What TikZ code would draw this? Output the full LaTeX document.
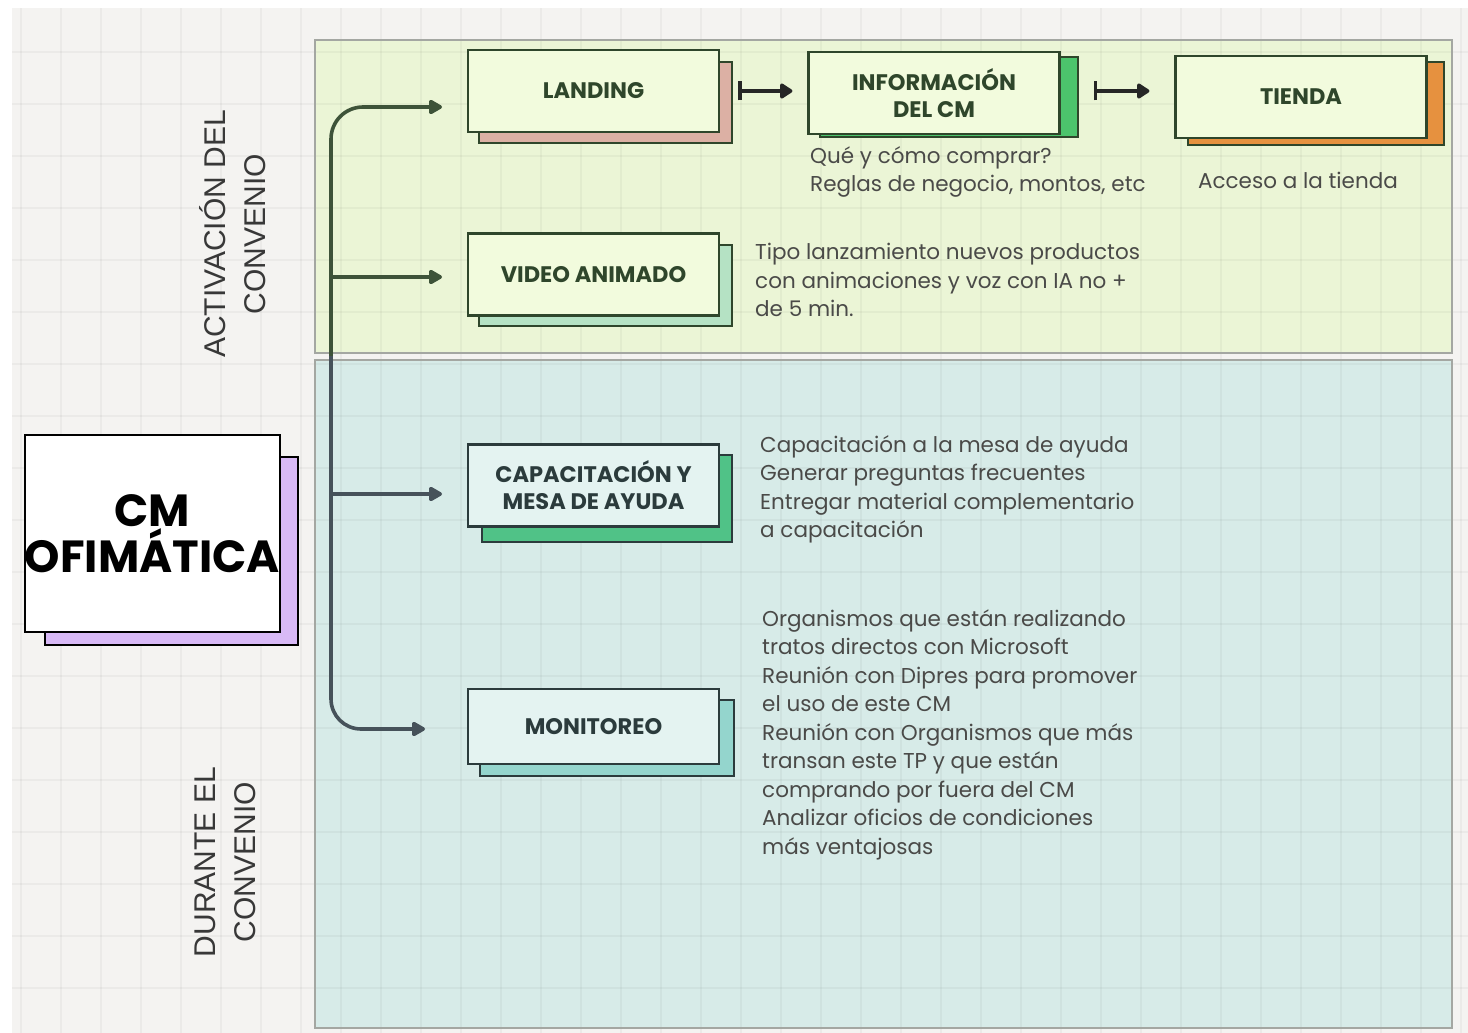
\documentclass[tikz,border=0pt]{standalone}
\usepackage{fontspec}
\setmainfont{Poppins}
\newfontfamily\labfont{Liberation Sans}
\usetikzlibrary{arrows.meta}
\definecolor{canvas}{HTML}{F4F3F1}
\definecolor{gband}{HTML}{EBF5D6}
\definecolor{bband}{HTML}{D7EBE8}
\definecolor{bandline}{HTML}{A4A7A2}
\definecolor{fillA}{HTML}{F2FBDD}
\definecolor{fillB}{HTML}{E4F3F1}
\definecolor{edgeA}{HTML}{2F462B}
\definecolor{edgeB}{HTML}{2B3B3C}
\definecolor{cpink}{HTML}{DCB0A4}
\definecolor{cgreen}{HTML}{4CC46C}
\definecolor{corange}{HTML}{E6913F}
\definecolor{cmint}{HTML}{B5E2C4}
\definecolor{ccap}{HTML}{50C287}
\definecolor{cteal}{HTML}{94D5CD}
\definecolor{cpurple}{HTML}{D8B9F6}
\definecolor{bodytext}{HTML}{4A4A48}
\definecolor{connA}{HTML}{3E5339}
\definecolor{connB}{HTML}{46525A}
\tikzset{
  mainbox/.style={draw=edgeA, line width=2.2pt, fill=fillA, minimum width=251pt, minimum height=82pt,
    inner sep=0pt, align=center, text=edgeA, font=\bfseries\fontsize{22.5}{27}\selectfont},
  mainboxB/.style={mainbox, draw=edgeB, fill=fillB, text=edgeB},
  shadowbox/.style={draw=edgeA, line width=2.2pt, minimum width=253pt, minimum height=81pt, inner sep=0pt},
  shadowboxB/.style={shadowbox, draw=edgeB},
  body/.style={anchor=north west, inner sep=0pt, align=left, text=bodytext, font=\fontsize{21.5}{28.5}\selectfont},
  bandlabel/.style={rotate=90, align=center, text=black!78, font=\labfont\fontsize{30}{40}\selectfont},
  gridline/.style={draw=black, opacity=0.035, line width=1.3pt},
  tipA/.style={-{Triangle[round, length=15pt, width=16pt]}},
  connectA/.style={draw=connA, line width=3.6pt, tipA},
  connectB/.style={draw=connB, line width=3.6pt, tipA},
  flow/.style={draw=black!85, line width=3.6pt, {Bar[width=19pt]}-{Triangle[round, length=14pt, width=17pt]}}
}
\begin{document}
\begin{tikzpicture}[x=1pt,y=-1pt]
\useasboundingbox (0,0) rectangle (1468,1033);
\fill[white] (0,0) rectangle (1468,1033);
\fill[canvas] (12,8) rectangle (1468,1033);
% bands
\fill[gband] (315,40) rectangle (1452,353);
\fill[bband] (315,360) rectangle (1452,1028);
% grid
\foreach \x in {21,61,...,1461} \draw[gridline] (\x,8) -- (\x,1033);
\foreach \y in {52,104,...,1030} \draw[gridline] (12,\y) -- (1468,\y);
\draw[bandline, line width=2pt] (315,40) rectangle (1452,353);
\draw[bandline, line width=2pt] (315,360) rectangle (1452,1028);
% band labels
\node[bandlabel] (lblA) at (233,234) {ACTIVACIÓN DEL\\CONVENIO};
\node[bandlabel] (lblB) at (225,862) {DURANTE EL\\CONVENIO};
% central node
\node[draw=black, line width=2.4pt, fill=cpurple, minimum width=253pt, minimum height=188pt, inner sep=0pt] (cmS) at (171.5,551) {};
\node[draw=black, line width=2.4pt, fill=white, minimum width=255pt, minimum height=197pt, inner sep=0pt,
  align=center, font=\bfseries\fontsize{45}{46}\selectfont] (cm) at (152.5,533.5) {CM\\OFIMÁTICA};
% top band cards
\node[shadowbox, fill=cpink] (landS) at (605.5,102.5) {};
\node[mainbox] (land) at (593.5,91) {LANDING};
\node[shadowbox, fill=cgreen, minimum width=258pt, minimum height=80pt] (infoS) at (949,97) {};
\node[mainbox] (info) at (934,93) {INFORMACIÓN\\DEL CM};
\node[shadowbox, fill=corange, minimum width=256pt, minimum height=83pt] (tiendaS) at (1316,103.5) {};
\node[mainbox] (tienda) at (1301,97) {TIENDA};
\node[shadowbox, fill=cmint] (videoS) at (605.5,285.5) {};
\node[mainbox] (video) at (593.5,274.5) {VIDEO ANIMADO};
% bottom band cards
\node[shadowboxB, fill=ccap, minimum width=250pt, minimum height=87pt] (capS) at (607,498.5) {};
\node[mainboxB] (cap) at (593.5,485.5) {CAPACITACIÓN Y\\MESA DE AYUDA};
\node[shadowboxB, fill=cteal, minimum width=254pt, minimum height=76pt] (monS) at (607,738) {};
\node[mainboxB, minimum height=75pt] (mon) at (593.5,726.5) {MONITOREO};
% texts
\node[body] (tinfo) at (810,146) {Qué y cómo comprar?\\Reglas de negocio, montos, etc};
\node[body, anchor=north] (ttienda) at (1298,172) {Acceso a la tienda};
\node[body] (tvideo) at (755,243) {Tipo lanzamiento nuevos productos\\con animaciones y voz con IA no +\\de 5 min.};
\node[body] (tcap) at (760,435) {Capacitación a la mesa de ayuda\\Generar preguntas frecuentes\\Entregar material complementario\\a capacitación};
\node[body] (tmon) at (762,609) {Organismos que están realizando\\tratos directos con Microsoft\\Reunión con Dipres para promover\\el uso de este CM\\Reunión con Organismos que más\\transan este TP y que están\\comprando por fuera del CM\\Analizar oficios de condiciones\\más ventajosas};
% connectors
\coordinate (trunk) at (331,356);
\coordinate (a1) at (442,107);
\coordinate (a2) at (442,277);
\coordinate (a3) at (442,494);
\coordinate (a4) at (425,729);
\draw[connectA, rounded corners=32pt] (trunk) |- (a1);
\draw[connectA] (trunk |- a2) -- (a2);
\draw[connectB, rounded corners=30pt] (trunk) |- (a4);
\draw[connectB] (trunk |- a3) -- (a3);
\draw[flow, shorten <=18pt, shorten >=15pt] (land.east) -- (land.east -| info.west);
\draw[flow, shorten <=33pt, shorten >=25pt] (info.east |- land.east) -- (land.east -| tienda.west);
\end{tikzpicture}
\end{document}
